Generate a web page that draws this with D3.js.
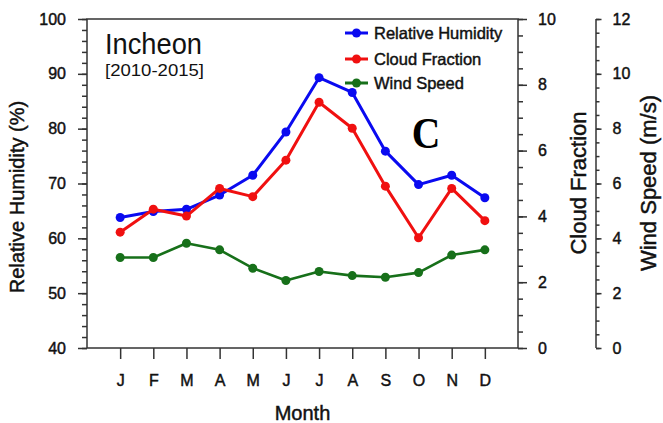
<!DOCTYPE html>
<html>
<head>
<meta charset="utf-8">
<script src="https://cdn.jsdelivr.net/npm/d3@7"></script>
<style>
  html, body { margin: 0; padding: 0; background: #fff; }
  svg { display: block; font-family: "Liberation Sans", Arial, Helvetica, sans-serif; }
  .axis text { font-size: 16px; fill: #111; stroke: #111; stroke-width: 0.45px; }
  .axis line { stroke: #333; stroke-width: 1.5; }
  .axis path { display: none; }
  .heavy { stroke: #111; stroke-width: 0.45px; }
</style>
</head>
<body>
<svg id="chart" width="663" height="423"></svg>
<script>
// Monthly climatology, Incheon 2010-2015
const months = ["J", "F", "M", "A", "M", "J", "J", "A", "S", "O", "N", "D"];
const relHumidity = [63.8, 64.9, 65.3, 67.9, 71.5, 79.4, 89.3, 86.6, 75.9, 69.8, 71.5, 67.4];
const cloudFraction = [3.52, 4.22, 4.01, 4.85, 4.60, 5.71, 7.47, 6.68, 4.92, 3.35, 4.85, 3.87];
const windSpeed = [3.30, 3.30, 3.82, 3.58, 2.91, 2.46, 2.79, 2.64, 2.58, 2.75, 3.39, 3.58];

const rhTicks = [40, 50, 60, 70, 80, 90, 100];
const cfTicks = [0, 2, 4, 6, 8, 10];
const wsTicks = [0, 2, 4, 6, 8, 10, 12];

const seriesNames = ["Relative Humidity", "Cloud Fraction", "Wind Speed"];
const seriesColors = ["#0a0af0", "#f01010", "#17701a"];

const svg = d3.select("#chart");
const L = 87, R = 518, T = 19, B = 348;
const windAxisX = 596;

const x = d3.scaleLinear().domain([0, 13]).range([L, R]);
const yRH = d3.scaleLinear().domain([40, 100]).range([B, T]);
const yCF = d3.scaleLinear().domain([0, 10]).range([B, T]);
const yWS = d3.scaleLinear().domain([0, 12]).range([B, T]);

// Minor ticks
svg.append("g").attr("class", "axis").attr("transform", `translate(${L},0)`)
  .call(d3.axisLeft(yRH).tickValues(d3.range(40, 100.1, 2)).tickSize(5).tickFormat(""));
svg.append("g").attr("class", "axis").attr("transform", `translate(${R},0)`)
  .call(d3.axisRight(yCF).tickValues(d3.range(0, 10.01, 0.5)).tickSize(5).tickFormat(""));
svg.append("g").attr("class", "axis").attr("transform", `translate(${windAxisX},0)`)
  .call(d3.axisRight(yWS).tickValues(d3.range(0, 12.01, 0.5)).tickSize(3.5).tickFormat(""));

// Major ticks with labels
svg.append("g").attr("class", "axis").attr("transform", `translate(${L},0)`)
  .call(d3.axisLeft(yRH).tickValues(rhTicks).tickSize(9).tickPadding(12).tickFormat(d3.format("d")));
svg.append("g").attr("class", "axis").attr("transform", `translate(${R},0)`)
  .call(d3.axisRight(yCF).tickValues(cfTicks).tickSize(9).tickPadding(11).tickFormat(d3.format("d")));
svg.append("g").attr("class", "axis").attr("transform", `translate(${windAxisX},0)`)
  .call(d3.axisRight(yWS).tickValues(wsTicks).tickSize(5.5).tickPadding(11).tickFormat(d3.format("d")));
svg.append("g").attr("class", "axis").attr("transform", `translate(0,${B})`)
  .call(d3.axisBottom(x).tickValues(d3.range(1, 13)).tickSize(11).tickPadding(16)
    .tickFormat(d => months[d - 1]));

// Plot frame and the separate wind-speed axis line
svg.append("rect").attr("x", L).attr("y", T).attr("width", R - L).attr("height", B - T)
  .attr("fill", "none").attr("stroke", "#333").attr("stroke-width", 1.5);
svg.append("line").attr("x1", windAxisX).attr("x2", windAxisX).attr("y1", T).attr("y2", B)
  .attr("stroke", "#333").attr("stroke-width", 1.5);

// Axis titles
svg.append("text").attr("class", "heavy").attr("transform", `translate(24,197) rotate(-90)`)
  .attr("text-anchor", "middle").attr("font-size", 20).attr("fill", "#111")
  .text("Relative Humidity (%)");
svg.append("text").attr("class", "heavy").attr("transform", `translate(586,183) rotate(-90)`)
  .attr("text-anchor", "middle").attr("font-size", 22).attr("fill", "#111")
  .text("Cloud Fraction");
svg.append("text").attr("class", "heavy").attr("transform", `translate(656,183) rotate(-90)`)
  .attr("text-anchor", "middle").attr("font-size", 22).attr("fill", "#111")
  .text("Wind Speed (m/s)");
svg.append("text").attr("class", "heavy").attr("x", (L + R) / 2).attr("y", 420)
  .attr("text-anchor", "middle").attr("font-size", 20).attr("fill", "#111")
  .text("Month");

// Station label
svg.append("text").attr("x", 105).attr("y", 54).attr("font-size", 29)
  .attr("textLength", 97).attr("lengthAdjust", "spacingAndGlyphs").attr("fill", "#111")
  .text("Incheon");
svg.append("text").attr("x", 105).attr("y", 76).attr("font-size", 17)
  .attr("textLength", 99).attr("lengthAdjust", "spacingAndGlyphs").attr("fill", "#111")
  .text("[2010-2015]");

// Panel letter
svg.append("text").attr("transform", "translate(426,148) scale(0.9,1)")
  .attr("text-anchor", "middle")
  .attr("font-family", "'Liberation Serif', 'Times New Roman', serif")
  .attr("font-size", 44).attr("font-weight", "bold").attr("fill", "#000")
  .text("C");

// Series
const series = [
  { values: relHumidity, y: yRH },
  { values: cloudFraction, y: yCF },
  { values: windSpeed, y: yWS }
];
const widths = [3, 3, 2.6];
series.forEach((s, i) => {
  const line = d3.line().x((d, j) => x(j + 1)).y(d => s.y(d));
  svg.append("path").datum(s.values).attr("d", line)
    .attr("fill", "none").attr("stroke", seriesColors[i]).attr("stroke-width", widths[i])
    .attr("stroke-linejoin", "round");
  svg.append("g").selectAll("circle").data(s.values).join("circle")
    .attr("cx", (d, j) => x(j + 1)).attr("cy", d => s.y(d)).attr("r", 4.5)
    .attr("fill", seriesColors[i]);
});

// Legend
const legendRows = [33, 59, 83];
seriesNames.forEach((name, i) => {
  const g = svg.append("g").attr("transform", `translate(0,${legendRows[i]})`);
  g.append("line").attr("x1", 345).attr("x2", 368).attr("y1", 0).attr("y2", 0)
    .attr("stroke", seriesColors[i]).attr("stroke-width", 3);
  g.append("circle").attr("cx", 356.5).attr("cy", 0).attr("r", 4.5).attr("fill", seriesColors[i]);
  g.append("text").attr("class", "heavy").attr("x", 374).attr("y", 0).attr("dy", "0.35em")
    .attr("font-size", 16.5).attr("fill", "#111").text(name);
});
</script>
</body>
</html>
